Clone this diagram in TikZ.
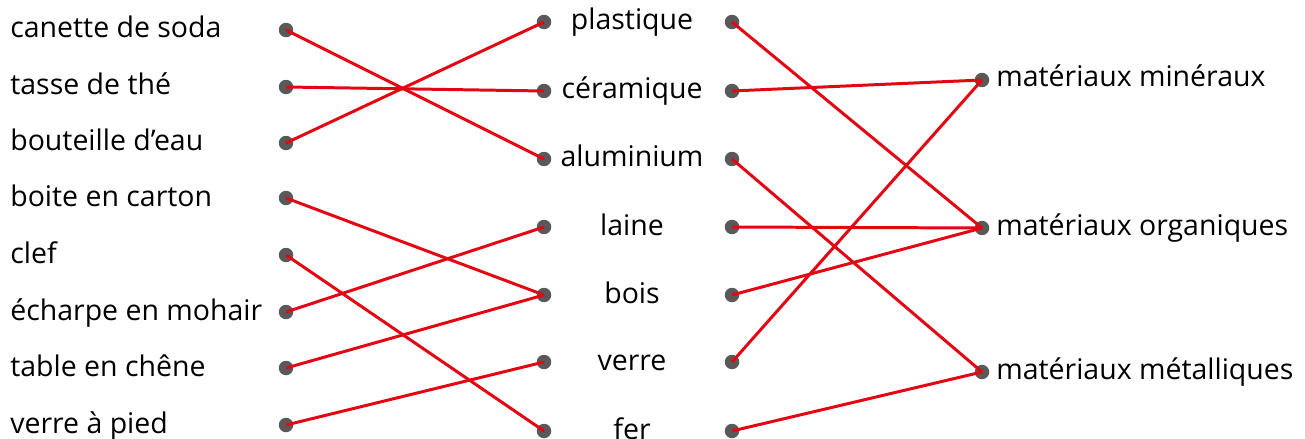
\documentclass[tikz,border=0pt]{standalone}
\usepackage{fontspec}
\setmainfont{Open Sans}
\usepackage{tikz}
\definecolor{trait}{HTML}{E30613}
\definecolor{gris}{HTML}{595959}

\begin{document}
\begin{tikzpicture}[x=0.02cm, y=-0.02cm,
    pt/.style={circle, fill=gris, inner sep=0pt, minimum size=0.29cm},
    lien/.style={trait, line width=1.7pt},
    etiq/.style={inner sep=0pt, font=\fontsize{16.2}{19}\selectfont}]
        \def\xa{286}
        \def\xb{544}
        \def\xc{632}
        \def\xd{732}
        \def\xe{982}

        \useasboundingbox (0,0) rectangle (1305,439);

        % objets
        \foreach \y/\txt [count=\i] in {30/canette de soda, 87/tasse de thé, 143/bouteille d’eau, 198/boite en carton, 255/clef, 312/écharpe en mohair, 368/table en chêne, 425/verre à pied} {
            \node[etiq, anchor=base west] (to\i) at (10,\y+8) {\txt};
            \node[pt] (o\i) at (\xa,\y) {};
        }

        % matieres
        \foreach \y/\txt [count=\i] in {22/plastique, 91/céramique, 159/aluminium, 227/laine, 295/bois, 362/verre, 431/fer} {
            \node[etiq, anchor=base] (tm\i) at (\xc,\y+8) {\txt};
            \node[pt] (mg\i) at (\xb,\y) {};
            \node[pt] (md\i) at (\xd,\y) {};
        }

        % familles
        \foreach \y/\txt [count=\i] in {80/matériaux minéraux, 228/matériaux organiques, 372/matériaux métalliques} {
            \node[etiq, anchor=base west] (tf\i) at (996,\y+7) {\txt};
            \node[pt] (f\i) at (\xe,\y) {};
        }

        \foreach \a/\b in {1/3, 2/2, 3/1, 4/5, 5/7, 6/4, 7/5, 8/6}
            \draw[lien] (o\a.center) -- (mg\b.center);
        \foreach \a/\b in {1/2, 2/1, 3/3, 4/2, 5/2, 6/1, 7/3}
            \draw[lien] (md\a.center) -- (f\b.center);
    \end{tikzpicture}
\end{document}
